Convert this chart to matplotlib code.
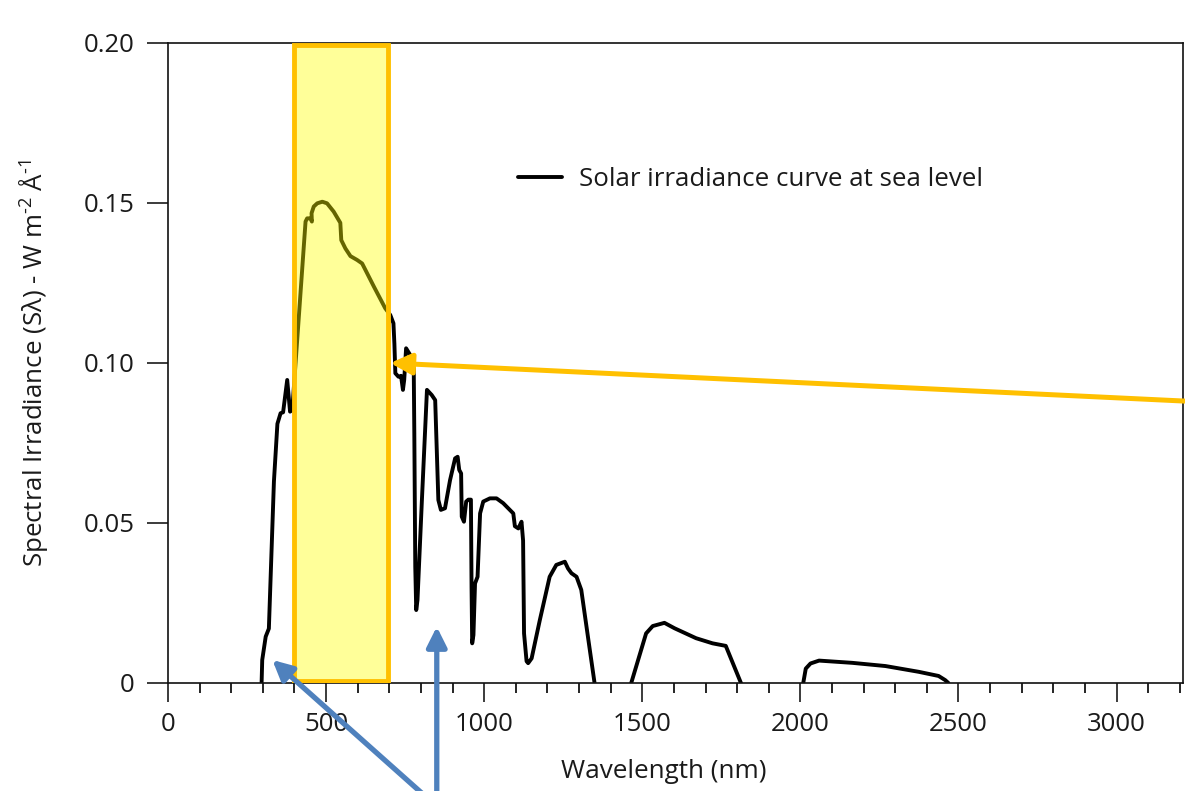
import matplotlib
matplotlib.use("Agg")
import numpy as np
import matplotlib.pyplot as plt
from matplotlib.patches import Rectangle

plt.rcParams['font.family'] = ['Open Sans', 'DejaVu Sans']
plt.rcParams['mathtext.fontset'] = 'custom'
plt.rcParams['mathtext.rm'] = 'Open Sans'
plt.rcParams['mathtext.default'] = 'regular'

# solar irradiance at sea level
wavelength = [296, 298, 309, 319, 335, 346, 356, 364, 377, 386, 393, 435, 440, 451,
              455, 454, 461, 472, 488, 503, 524, 545, 548, 561, 577, 598, 614, 651,
              687, 703, 713, 716, 719, 729, 737, 743, 747, 753, 766, 777, 779, 782,
              785, 789, 803, 819, 834, 845, 850, 855, 863, 876, 892, 908, 916, 921,
              927, 929, 936, 943, 950, 958, 960, 962, 966, 971, 979, 987, 997, 1018,
              1039, 1060, 1092, 1097, 1108, 1118, 1123, 1126, 1134, 1139, 1150, 1176,
              1207, 1228, 1255, 1265, 1276, 1292, 1307, 1328, 1349, 1465, 1512, 1533,
              1570, 1602, 1670, 1722, 1764, 1812, 2009, 2017, 2032, 2059, 2164, 2269,
              2374, 2437, 2458, 2468]
irradiance = [0.0, 0.0072, 0.0145, 0.017, 0.063, 0.081, 0.0843, 0.0846, 0.0947, 0.0848,
              0.0853, 0.1442, 0.1452, 0.1452, 0.1442, 0.1468, 0.1489, 0.1499, 0.1504,
              0.1499, 0.1473, 0.1438, 0.1384, 0.1358, 0.1334, 0.1322, 0.1311, 0.1239,
              0.1171, 0.115, 0.1124, 0.1060, 0.0968, 0.0957, 0.0960, 0.0916, 0.0947,
              0.1046, 0.1025, 0.0999, 0.078, 0.0363, 0.0228, 0.0259, 0.0572, 0.0916,
              0.09, 0.0884, 0.0728, 0.0572, 0.0541, 0.0546, 0.0634, 0.0702, 0.0707,
              0.0666, 0.0655, 0.052, 0.0504, 0.0567, 0.0573, 0.0573, 0.03, 0.0124,
              0.015, 0.0311, 0.0332, 0.053, 0.0567, 0.0577, 0.0577, 0.0562, 0.053,
              0.049, 0.0483, 0.0504, 0.0445, 0.0155, 0.0068, 0.0062, 0.0077, 0.0197,
              0.0332, 0.0369, 0.0379, 0.0358, 0.0343, 0.0332, 0.0291, 0.0145, 0.0,
              0.0, 0.0155, 0.0178, 0.0188, 0.0171, 0.014, 0.0124, 0.0116, 0.0, 0.0,
              0.0045, 0.0061, 0.007, 0.0063, 0.0053, 0.0035, 0.0022, 0.0009, 0.0]

visible_band = (400, 695)
xticks = [0, 500, 1000, 1500, 2000, 2500, 3000]
yticks = [0, 0.05, 0.10, 0.15, 0.20]
ytick_labels = ['0', '0.05', '0.10', '0.15', '0.20']

text_color = '#1a1a1a'

# break the line where it runs flat along the axis (zero between bands)
xs, ys = [], []
for i, (x, y) in enumerate(zip(wavelength, irradiance)):
    if i > 0 and y == 0 and irradiance[i - 1] == 0:
        xs.append(np.nan)
        ys.append(np.nan)
    xs.append(x)
    ys.append(y)

fig = plt.figure(figsize=(11.85, 7.91), dpi=100)
ax = fig.add_axes([168 / 1185, 108 / 791, 1015 / 1185, 640 / 791])

ax.plot(xs, ys, color='black', linewidth=2.8,
        solid_joinstyle='round', solid_capstyle='round',
        label='Solar irradiance curve at sea level', zorder=2)

ax.add_patch(Rectangle((visible_band[0], 0.0007), visible_band[1] - visible_band[0], 0.1986,
                       facecolor=(1, 1, 0, 0.4), edgecolor='#FFC000', linewidth=3.5,
                       zorder=3))

ax.set_xlim(0, 3210)
ax.set_ylim(0, 0.20)
ax.set_xticks(xticks)
ax.set_xticks(range(0, 3201, 100), minor=True)
ax.set_yticks(yticks)
ax.set_yticklabels(ytick_labels)

ax.tick_params(axis='both', which='major', labelsize=18.5, colors=text_color,
               width=1.2, direction='out')
ax.tick_params(axis='x', which='major', length=14, pad=7)
ax.tick_params(axis='x', which='minor', length=7, width=1.2)
ax.tick_params(axis='y', which='major', length=15, pad=9)
for s in ax.spines.values():
    s.set_linewidth(1.2)
    s.set_color('#111111')

ax.set_xlabel('Wavelength (nm)', fontsize=18.8, color=text_color)
ax.xaxis.set_label_coords(0.488, -0.118)
ax.set_ylabel(r'Spectral Irradiance (Sλ) - W m$^{\text{-}2}$ Å$^{\text{-}1}$', fontsize=18.6,
              color=text_color, labelpad=24)

ax.legend(loc='center left', bbox_to_anchor=(0.345, 0.786), frameon=False,
          fontsize=18.6, borderaxespad=0, borderpad=0, handlelength=1.7,
          handletextpad=0.65, labelcolor=text_color)

# orange pointer onto the visible band
ax.annotate('', xy=(703, 0.1), xytext=(3215, 0.0881), annotation_clip=False,
            arrowprops=dict(arrowstyle='-|>', color='#FFC000', lw=3.6,
                            mutation_scale=32, shrinkA=0, shrinkB=0), zorder=5)

# blue pointers from below the figure
blue = '#4F81BD'
ax.annotate('', xy=(330, 0.0072), xytext=(832, -0.037), annotation_clip=False,
            arrowprops=dict(arrowstyle='-|>', color=blue, lw=3.8,
                            mutation_scale=30, shrinkA=0, shrinkB=0), zorder=5)
ax.annotate('', xy=(850, 0.0176), xytext=(850, -0.037), annotation_clip=False,
            arrowprops=dict(arrowstyle='-|>', color=blue, lw=3.8,
                            mutation_scale=30, shrinkA=0, shrinkB=0), zorder=5)

fig.savefig('out.png', dpi=100, facecolor='white')
